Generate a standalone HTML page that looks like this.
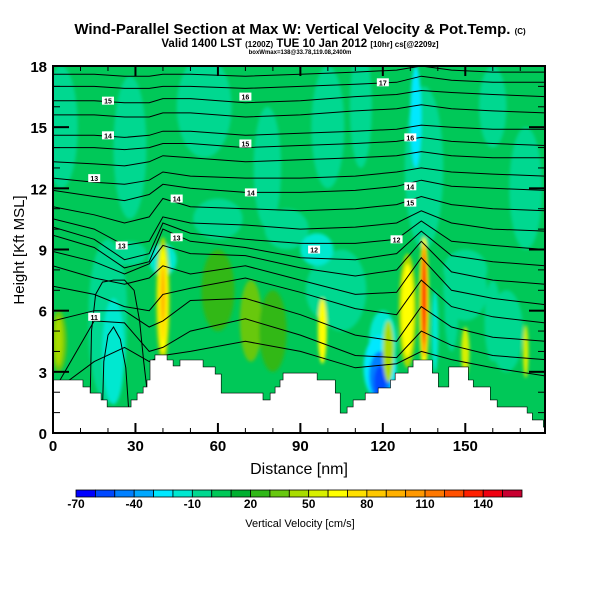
<!DOCTYPE html>
<html><head><meta charset="utf-8"><style>
html,body{margin:0;padding:0;background:#fff;}
svg{display:block;font-family:"Liberation Sans",sans-serif;}
</style></head><body>
<svg id="chart" width="600" height="600" viewBox="0 0 600 600">
<defs><clipPath id="pc"><rect x="53" y="66" width="492" height="367"/></clipPath>
<filter id="soft"><feGaussianBlur stdDeviation="1.5"/></filter></defs>
<text x="300" y="34" text-anchor="middle" font-size="15" font-weight="bold">Wind-Parallel Section at Max W: Vertical Velocity &amp; Pot.Temp. <tspan font-size="8">(C)</tspan></text>
<text x="300" y="47" text-anchor="middle" font-size="11.5" font-weight="bold">Valid 1400 LST <tspan font-size="8">(1200Z)</tspan> TUE 10 Jan 2012 <tspan font-size="8">[10hr] cs[@2209z]</tspan></text>
<text x="300" y="54" text-anchor="middle" font-size="6" font-weight="bold">boxWmax=138@33.78,119.08,2400m</text>
<g id="field" clip-path="url(#pc)"></g>
<g id="axes"></g>
<g id="cbar"></g>
</svg>
<script>
// ---- data ----
const xMax = 179, yMax = 18;
const xTicks = [0,30,60,90,120,150];
const yTicks = [0,3,6,9,12,15,18];
const cbLevels = [-70,-60,-50,-40,-30,-20,-10,0,10,20,30,40,50,60,70,80,90,100,110,120,130,140,150,160];
const cbColors = ["#0000ff","#0048ff","#0080ff","#00a8ff","#00e8ff","#00e8d0","#00d890","#00c858","#00b030","#30b818","#68c810","#a8dc00","#d8f000","#ffff00","#ffe000","#ffc800","#ffb000","#ff9800","#ff7800","#ff5000","#ff2000","#f00010","#c80030"];
const cbLabels = [-70,-40,-10,20,50,80,110,140];
// terrain step profile: start distance (nm), height (kft)
const terrX = [0,10.9,13.5,17.5,19.7,28.4,30.6,32.8,34.2,35.3,37.1,41.5,43.7,46.2,54.6,59,61.2,76.4,79,80.8,82.6,83.7,96.1,102.7,104.5,107,109.2,113.6,118.3,122.8,124.5,129.2,131,138,140.2,144,151.1,152.9,159.1,161.6,172.5,174.4,178.4];
const terrH = [2.6,2.26,1.96,1.62,1.28,1.62,1.96,2.26,2.6,3.58,3.83,3.58,3.29,3.58,3.24,2.89,1.96,1.62,1.96,2.26,2.6,2.94,2.6,1.96,0.98,1.28,1.62,1.96,2.21,2.6,2.94,3.24,3.58,2.94,2.26,3.24,2.6,2.26,1.62,1.28,0.98,0.64,0.29];
// velocity blobs: centre x (nm), centre y (kft), half-width (nm), half-height (kft), value (cm/s)
const blobX = [3,28,55,78,100,135,160,172,20,40,60,85,105,150,165,2,20,22,28,40,40,40,40,100,96,120,119,119,119,98,129,129,135,135,135,139,145,150,160,172,72,150,2,80,122,60,132,112];
const blobY = [15,14,16,13,15,13,16,12,6,8.5,10.5,10,7,7,5,4.5,5,4,8.8,6.5,6.5,6.5,6.8,7,9,4.5,3.2,2.8,2.5,5,6,6,6.3,6.5,6.6,5,6,4,5.5,4,5.5,8,4.5,5,4,7,15.5,16];
const blobW = [6,6,10,5,6,7,5,6,7,5,9,8,9,8,6,3,7,4,6,2.5,1.8,1.2,0.6,8,6,5,6,4,2.2,1.6,3.2,2.2,1.8,1.2,0.7,1.2,2.5,1.5,3,1,4,8,1.5,5,2,6,2,4];
const blobH = [3,3.5,2.5,3,3,4,2,3,3.5,0.8,1,1,2,1.5,2,1.5,3.5,2.6,0.6,3.1,2.6,2,1.3,1.5,0.8,1.5,1.6,1.2,0.8,1.6,2.8,2.3,3.3,2.8,2.2,2,2,1.2,2,1.3,2,1,1.2,2,1.5,2,2.5,3];
const blobV = [-5,-5,-5,-5,-5,-5,-5,-5,-10,-20,-10,-5,-10,-10,-10,30,-10,-20,-10,40,60,70,90,-10,-20,-20,-30,-45,-60,60,40,60,60,100,130,-20,-10,50,-10,50,30,-10,40,25,40,25,-25,-5];
// potential temperature contours: heights (kft) at knot distances
const cKnots = [0,15,26,35,40,50,70,90,110,125,134,145,160,179];
const cLines = [
 [17.6,17.6,17.5,17.5,17.6,17.6,17.5,17.6,17.7,17.8,18.0,17.8,17.7,17.7],
 [17.0,17.0,16.9,16.9,17.0,17.0,16.9,17.0,17.1,17.2,17.5,17.3,17.2,17.2],
 [16.3,16.3,16.2,16.2,16.4,16.4,16.2,16.3,16.5,16.6,16.8,16.7,16.6,16.5],
 [15.6,15.6,15.5,15.5,15.7,15.7,15.5,15.6,15.8,15.9,16.1,15.9,15.8,15.7],
 [14.6,14.6,14.5,14.6,14.8,14.8,14.6,14.7,14.8,14.9,15.1,15.0,14.9,14.9],
 [14.0,14.0,13.9,14.0,14.2,14.2,14.0,14.1,14.2,14.3,14.5,14.3,14.2,14.1],
 [13.3,13.2,13.1,13.3,13.6,13.5,13.3,13.4,13.5,13.6,13.8,13.6,13.5,13.5],
 [12.5,12.3,12.2,12.4,12.8,12.6,12.5,12.5,12.6,12.8,13.0,12.8,12.7,12.6],
 [11.9,11.6,11.4,11.7,12.2,12.0,11.8,11.8,11.9,12.1,12.4,12.1,12.0,11.9],
 [11.1,10.7,10.3,10.6,11.5,11.1,11.0,10.9,11.0,11.2,11.6,11.2,11.0,10.9],
 [10.5,10.0,9.2,9.4,10.6,10.3,10.2,10.0,10.1,10.3,10.9,10.3,10.0,9.9],
 [10.1,9.5,8.5,8.8,10.3,9.8,9.5,9.3,9.3,9.5,10.4,9.4,9.2,9.0],
 [9.7,9.1,8.1,8.4,10.0,9.4,9.1,8.6,8.5,8.8,9.9,8.7,8.4,8.2],
 [8.9,8.4,7.8,8.3,9.2,8.8,8.7,8.1,7.7,8.0,9.4,7.9,7.5,7.3],
 [8.2,7.6,7.3,7.6,8.2,7.8,8.2,7.5,6.8,6.9,8.6,7.0,6.6,6.3],
 [7.2,6.8,6.2,6.0,6.8,7.1,7.6,6.9,6.1,5.8,7.5,6.2,5.7,5.4],
 [5.5,6.0,6.0,5.2,5.5,6.5,6.6,5.8,4.8,4.5,6.2,5.2,4.7,4.5],
 [2,5.5,5.4,4.0,4.2,5.0,5.6,4.8,3.8,3.7,5.0,4.3,3.8,3.6],
 [2,3.5,4.2,3.5,3.8,4.0,4.5,4.0,3.2,3.4,4.0,3.6,3.2,2.8]
];
// closed cold-pool contours: distance (nm) / height (kft) outlines
const loopOuterX = [13.5,14,15.5,18,22,26,29.5,31.5,33,34.5];
const loopOuterY = [1.5,5,6.8,7.4,7.5,7.5,7.0,5.5,3.5,1.8];
const loopInnerX = [18,18.5,20,22,24.5,26.5,27.5];
const loopInnerY = [1.2,3.5,4.8,5.2,4.6,3.2,1.2];
const labX = [20,70,120,20,70,130,15,45,72,130,25,45,95,125,130,15];
const labY = [16.3,16.5,17.2,14.6,14.2,14.5,12.5,11.5,11.8,11.3,9.2,9.6,9.0,9.5,12.1,5.7];
const labT = ["15","16","17","14","15","16","13","14","14","15","13","13","12","12","14","11"];

// ---- scales ----
const L=53,R=545,T=66,B=433;
const sx=v=>L+v/xMax*(R-L), sy=v=>B-v/yMax*(B-T);
const NS="http://www.w3.org/2000/svg";
function mk(tag,attrs,parent){const e=document.createElementNS(NS,tag);for(const k in attrs)e.setAttribute(k,attrs[k]);parent.appendChild(e);return e;}
function colorOf(v){let i=Math.floor((v-cbLevels[0])/10);i=Math.max(0,Math.min(cbColors.length-1,i));return cbColors[i];}

const field=document.getElementById('field');
const bg=mk('rect',{x:L,y:T,width:R-L,height:B-T,fill:colorOf(5)},field);


const blobs=mk('g',{filter:'url(#soft)'},field);


for(let i=0;i<blobX.length;i++){
  const e=mk('ellipse',{cx:sx(blobX[i]),cy:sy(blobY[i]),rx:blobW[i]/xMax*(R-L),ry:blobH[i]/yMax*(B-T),fill:colorOf(blobV[i])},blobs);
  
  
}
const cg=mk('g',{},field);


cLines.forEach(line=>{
  const pts=line.map((h,j)=>sx(cKnots[j]).toFixed(1)+','+sy(h).toFixed(1)).join(' ');
  const p=mk('polyline',{points:pts,fill:'none',stroke:'#000','stroke-width':1},cg);
  
  
});
[[loopOuterX,loopOuterY],[loopInnerX,loopInnerY]].forEach(([xs,ys])=>{
  const pts=xs.map((x,j)=>sx(x).toFixed(1)+','+sy(ys[j]).toFixed(1)).join(' ');
  const p=mk('polyline',{points:pts,fill:'none',stroke:'#000','stroke-width':1},cg);
  
  
});
// terrain
let d='M'+L+','+B;
for(let i=0;i<terrX.length;i++){const x0=sx(terrX[i]),x1=i+1<terrX.length?sx(terrX[i+1]):R+2;d+=' L'+x0+','+sy(terrH[i])+' L'+x1+','+sy(terrH[i]);}
d+=' L'+(R+2)+','+B+' Z';
const terr=mk('path',{d:d,fill:'#fff',stroke:'#000','stroke-width':0.6},field);


for(let i=0;i<labX.length;i++){
  const g=mk('g',{},field);
  
  
  mk('rect',{x:sx(labX[i])-6,y:sy(labY[i])-4,width:12,height:8,fill:'#fff'},g);
  const t=mk('text',{x:sx(labX[i]),y:sy(labY[i])+3,'text-anchor':'middle','font-size':7,'font-weight':'bold'},g);
  t.textContent=labT[i];
}
// axes
const ax=document.getElementById('axes');
const frame=mk('rect',{x:L,y:T,width:R-L,height:B-T,fill:'none',stroke:'#000','stroke-width':2},ax);


for(let v=0;v<=xMax;v+=10){
  const maj=xTicks.includes(v),len=maj?10:5;
  mk('line',{x1:sx(v),x2:sx(v),y1:B,y2:B-len,stroke:'#000','stroke-width':maj?2:1},ax);
  mk('line',{x1:sx(v),x2:sx(v),y1:T,y2:T+len,stroke:'#000','stroke-width':maj?2:1},ax);
}
xTicks.forEach(v=>{const t=mk('text',{x:sx(v),y:B+18,'text-anchor':'middle','font-size':15,'font-weight':'bold'},ax);t.textContent=v;
  
  });
for(let v=0;v<=yMax;v+=1){
  const maj=yTicks.includes(v),len=maj?16:7;
  mk('line',{x1:L,x2:L+len,y1:sy(v),y2:sy(v),stroke:'#000','stroke-width':maj?2:1},ax);
  mk('line',{x1:R,x2:R-len,y1:sy(v),y2:sy(v),stroke:'#000','stroke-width':maj?2:1},ax);
}
yTicks.forEach(v=>{const t=mk('text',{x:L-6,y:sy(v)+6,'text-anchor':'end','font-size':15,'font-weight':'bold'},ax);t.textContent=v;
  
  });
const xt=mk('text',{x:299,y:474,'text-anchor':'middle','font-size':16},ax);xt.textContent='Distance [nm]';


const yt=mk('text',{x:24,y:250,'text-anchor':'middle','font-size':15,transform:'rotate(-90 24 250)'},ax);yt.textContent='Height [Kft MSL]';


// colorbar
const cb=document.getElementById('cbar');
const cx0=76,cx1=522,cw=(cx1-cx0)/cbColors.length;
cbColors.forEach((c,i)=>{const r=mk('rect',{x:cx0+i*cw,y:490,width:cw,height:7,fill:c,stroke:'#000','stroke-width':0.8},cb);
  
  });
cbLabels.forEach(v=>{const t=mk('text',{x:cx0+(v-cbLevels[0])/10*cw,y:508,'text-anchor':'middle','font-size':12,'font-weight':'bold'},cb);t.textContent=v;
  
  });
const ct=mk('text',{x:300,y:527,'text-anchor':'middle','font-size':11},cb);ct.textContent='Vertical Velocity [cm/s]';


</script>
</body></html>
